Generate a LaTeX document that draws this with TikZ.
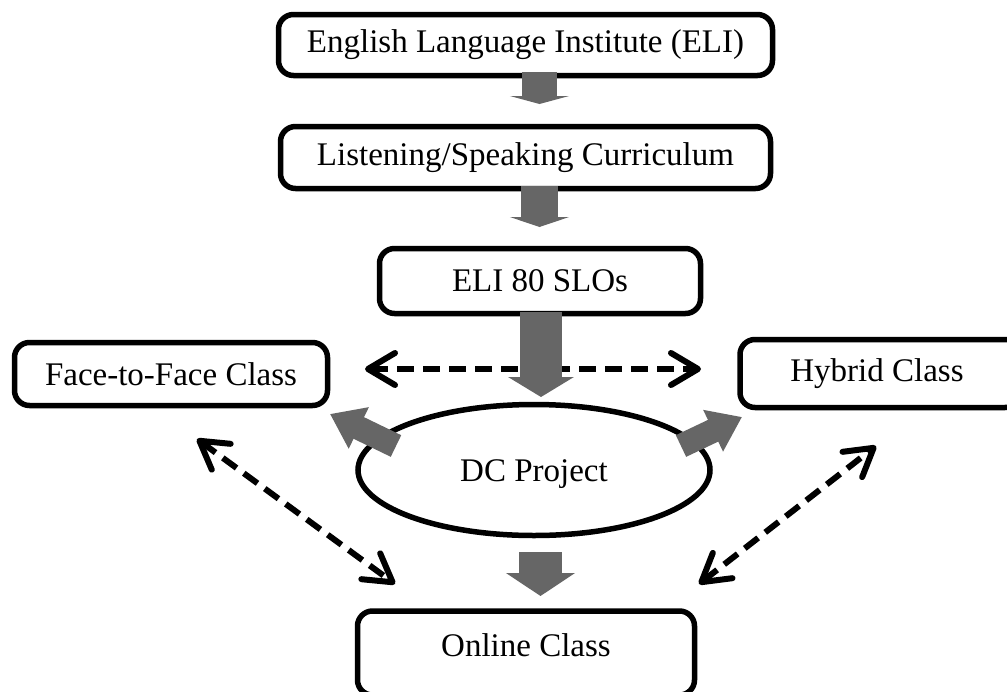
\documentclass[tikz,border=0pt]{standalone}
\usepackage{fontspec}
\setmainfont{Liberation Serif}
\usetikzlibrary{arrows.meta,shapes.geometric}
\definecolor{agray}{RGB}{102,102,102}
\begin{document}
\begin{tikzpicture}[x=1pt,y=-1pt,
  txt/.style={font=\fontsize{33}{38}\selectfont},
  box/.style={draw=black, line width=5.5pt, rounded corners=15pt, fill=white, inner sep=0pt, txt},
  oval/.style={draw=black, line width=5.5pt, ellipse, fill=white, inner sep=0pt},
  dasharrow/.style={line width=6pt, dash pattern=on 17pt off 9pt,
    {Straight Barb[length=27pt,width=32pt,round]}-{Straight Barb[length=27pt,width=32pt,round]}},
  blk/.style={agray},
]
\useasboundingbox (0,0) rectangle (1007,691);

% boxes
\node[box, minimum width=494pt, minimum height=61pt] (eli) at (525.5,45) {English Language Institute (ELI)};
\node[box, minimum width=490pt, minimum height=62pt] (ls) at (525.5,157.5) {Listening/Speaking Curriculum};
\node[box, minimum width=321pt, minimum height=65pt] (slo) at (540,281) {ELI 80 SLOs};
\node[box, minimum width=313pt, minimum height=63pt] (f2f) at (171,374) {Face-to-Face Class};
\node[box, minimum width=280pt, minimum height=68pt] (hyb) at (880,373.5) {};
\node[txt] (hybt) at (877,373.5) {Hybrid Class};
\node[box, minimum width=337pt, minimum height=84pt] (onl) at (526,653) {};
\node[txt] (onlt) at (526,645) {Online Class};
\node[oval, minimum width=352pt, minimum height=131pt] (dc) at (534,470) {};
\node[txt] (dct) at (534,474) {DC Project};

% dashed double arrows
\coordinate (hl) at (365,369);
\coordinate (hr) at (701,369);
\coordinate (ll) at (197,439);
\coordinate (lr) at (395,584);
\coordinate (rl) at (699,584);
\coordinate (rr) at (876,446);
\draw[dasharrow] (hl) -- (hr);
\draw[dasharrow] (ll) -- (lr);
\draw[dasharrow] (rl) -- (rr);

% block arrows
\coordinate (a1s) at (539.5,72);  \coordinate (a1e) at (539.5,104);
\coordinate (a2s) at (539.5,186); \coordinate (a2e) at (539.5,227);
\coordinate (a3s) at (541,312);   \coordinate (a3e) at (541,397);
\coordinate (a4s) at (396,446);   \coordinate (a4e) at (330,414);
\coordinate (a5s) at (681,446);   \coordinate (a5e) at (742,417);
\coordinate (a6s) at (540.5,552); \coordinate (a6e) at (540.5,596);
\draw[blk, line width=35pt, -{Triangle[length=8pt,width=59pt]}] (a1s) -- (a1e);
\draw[blk, line width=37pt, -{Triangle[length=10pt,width=59pt]}] (a2s) -- (a2e);
\draw[blk, line width=42pt, -{Triangle[length=20pt,width=65pt]}] (a3s) -- (a3e);
\draw[blk, line width=24pt, -{Triangle[length=32pt,width=44pt]}] (a4s) -- (a4e);
\draw[blk, line width=24pt, -{Triangle[length=32pt,width=44pt]}] (a5s) -- (a5e);
\draw[blk, line width=43pt, -{Triangle[length=23pt,width=68pt]}] (a6s) -- (a6e);
\end{tikzpicture}
\end{document}
